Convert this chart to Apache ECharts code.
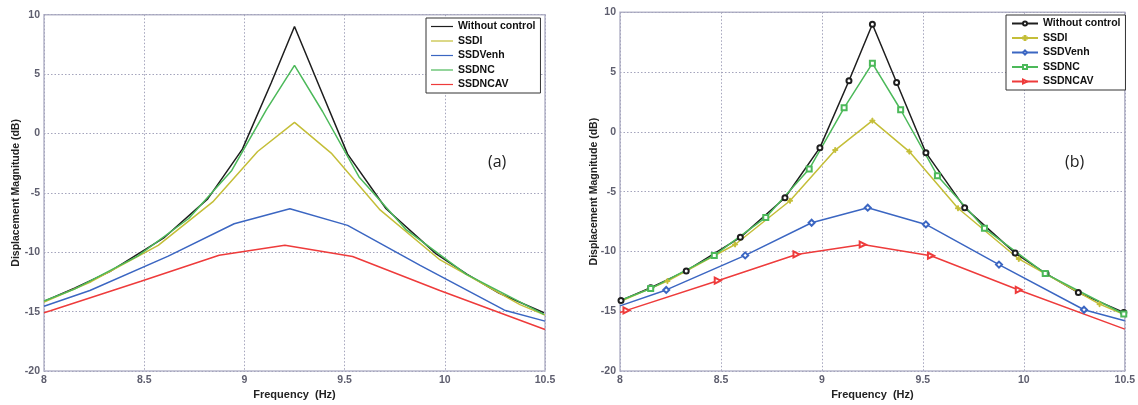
<!DOCTYPE html>
<html>
<head>
<meta charset="utf-8">
<script src="https://cdn.jsdelivr.net/npm/echarts@6/dist/echarts.min.js"></script>
<style>
  html, body { margin: 0; padding: 0; background: #fff; }
  #wrap { position: relative; width: 1138px; height: 405px; }
  #chartA { position: absolute; left: 0; top: 0; width: 570px; height: 405px; }
  #chartB { position: absolute; left: 570px; top: 0; width: 568px; height: 405px; }
</style>
</head>
<body>
<div id="wrap">
  <div id="chartA"></div>
  <div id="chartB"></div>
</div>
<script>
// Frequency axis range and ticks
const X_MIN = 8;
const X_MAX = 10.5;
const xTicks = [8, 8.5, 9, 9.5, 10, 10.5];
const yTicks = [-20, -15, -10, -5, 0, 5, 10];

// Without control
const freqNoCtrl = [8.005, 8.152, 8.328, 8.596, 8.817, 8.99, 9.134, 9.25, 9.37, 9.515, 9.707, 9.957, 10.11, 10.27, 10.495];
const dbNoCtrl   = [-14.1, -13.03, -11.63, -8.82, -5.51, -1.32, 4.27, 9.0, 4.13, -1.74, -6.34, -10.14, -11.85, -13.44, -15.1];

// SSDI
const freqSSDI = [8.0, 8.235, 8.57, 8.842, 9.066, 9.25, 9.433, 9.674, 9.975, 10.375, 10.5];
const dbSSDI   = [-14.2, -12.48, -9.42, -5.76, -1.52, 0.94, -1.65, -6.39, -10.63, -14.41, -15.3];

// SSDVenh
const freqSSDVenh = [8.0, 8.229, 8.62, 8.949, 9.227, 9.515, 9.877, 10.298, 10.5];
const dbSSDVenh   = [-14.55, -13.22, -10.33, -7.6, -6.34, -7.74, -11.1, -14.88, -15.8];

// SSDNC
const freqSSDNC = [8.0, 8.152, 8.467, 8.722, 8.937, 9.11, 9.25, 9.39, 9.572, 9.805, 10.106, 10.495];
const dbSSDNC   = [-14.1, -13.11, -10.33, -7.16, -3.11, 2.01, 5.73, 1.85, -3.66, -8.07, -11.85, -15.23];

// SSDNCAV
const freqSSDNCAV = [8.0, 8.032, 8.484, 8.874, 9.202, 9.54, 9.975, 10.5];
const dbSSDNCAV   = [-15.1, -14.93, -12.45, -10.25, -9.42, -10.36, -13.22, -16.5];

const seriesNames = ['Without control', 'SSDI', 'SSDVenh', 'SSDNC', 'SSDNCAV'];

const FONT = '"Liberation Sans", Arial, sans-serif';
const PLUS = 'path://M2,0H3V2H5V3H3V5H2V3H0V2H2Z';

const curves = [
  { name: seriesNames[0], f: freqNoCtrl,  d: dbNoCtrl,    color: '#1e1e1e', symbol: 'emptyCircle',  size: 5, rotate: 0 },
  { name: seriesNames[1], f: freqSSDI,    d: dbSSDI,      color: '#c4be38', symbol: PLUS,           size: 5, rotate: 0 },
  { name: seriesNames[2], f: freqSSDVenh, d: dbSSDVenh,   color: '#3b66c2', symbol: 'emptyDiamond', size: 6, rotate: 0 },
  { name: seriesNames[3], f: freqSSDNC,   d: dbSSDNC,     color: '#4cb95a', symbol: 'emptyRect',    size: 5, rotate: 0 },
  { name: seriesNames[4], f: freqSSDNCAV, d: dbSSDNCAV,   color: '#ee3b3b', symbol: 'emptyTriangle',size: 6, rotate: -90 }
];

// points lying on the frame edge carry no marker
function points(c, withMarkers) {
  return c.f.map((f, i) => {
    const item = { value: [f, c.d[i]] };
    if (!withMarkers || f === X_MIN || f === X_MAX) item.symbol = 'none';
    return item;
  });
}

function buildOption(withMarkers, gridBox, legendPos, tag) {
  const legend = {
    orient: 'vertical',
    left: legendPos.left,
    top: legendPos.top,
    data: seriesNames,
    itemWidth: legendPos.itemWidth,
    itemHeight: withMarkers ? 5 : 1.2,
    itemGap: 3.5,
    padding: [3, 5, 3, 5],
    backgroundColor: '#fff',
    borderColor: '#333',
    borderWidth: 1,
    borderRadius: 0,
    selectedMode: false,
    textStyle: { fontFamily: FONT, fontWeight: 'bold', fontSize: 10.5, color: '#111', lineHeight: 11 }
  };
  if (!withMarkers) {
    legend.icon = 'rect';
    legend.itemStyle = { borderWidth: 0 };
  }
  return {
    animation: false,
    backgroundColor: '#fff',
    grid: Object.assign({ show: true, borderColor: '#b6b6ca', borderWidth: 1.5, backgroundColor: 'transparent', containLabel: false }, gridBox),
    legend: legend,
    xAxis: {
      type: 'value',
      min: X_MIN,
      max: X_MAX,
      interval: 0.5,
      name: 'Frequency  (Hz)',
      nameLocation: 'middle',
      nameGap: 18,
      nameMoveOverlap: false,
      nameTextStyle: { fontFamily: FONT, fontWeight: 'bold', fontSize: 11, color: '#222' },
      axisLine: { show: false },
      axisTick: { show: false },
      axisLabel: {
        margin: 4, fontFamily: FONT, fontWeight: 'bold', fontSize: 10.5, color: '#5e5e6e',
        formatter: v => xTicks.includes(v) ? String(v) : ''
      },
      splitLine: { show: true, lineStyle: { color: '#a4a4bc', width: 1, type: [1.5, 2] } }
    },
    yAxis: {
      type: 'value',
      min: -20,
      max: 10,
      interval: 5,
      name: 'Displacement Magnitude (dB)',
      nameLocation: 'middle',
      nameGap: legendPos.yNameGap,
      nameMoveOverlap: false,
      nameTextStyle: { fontFamily: FONT, fontWeight: 'bold', fontSize: 10.5, color: '#222' },
      axisLine: { show: false },
      axisTick: { show: false },
      axisLabel: {
        margin: 4, fontFamily: FONT, fontWeight: 'bold', fontSize: 10.5, color: '#5e5e6e',
        formatter: v => yTicks.includes(v) ? String(v) : ''
      },
      splitLine: { show: true, lineStyle: { color: '#a4a4bc', width: 1, type: [1.5, 2] } }
    },
    graphic: [{
      type: 'text',
      left: legendPos.tagX,
      top: 154,
      style: { text: tag, font: '16px "Open Sans", sans-serif', fill: '#222' }
    }],
    series: curves.map(c => ({
      name: c.name,
      type: 'line',
      data: points(c, withMarkers),
      symbol: withMarkers ? c.symbol : 'none',
      symbolSize: c.size,
      symbolRotate: c.rotate,
      showSymbol: withMarkers,
      lineStyle: { color: c.color, width: 1.5 },
      itemStyle: { color: c.color, borderColor: c.color, borderWidth: 1 },
      emphasis: { disabled: true }
    }))
  };
}

const chartA = echarts.init(document.getElementById('chartA'), null, { renderer: 'canvas' });
chartA.setOption(buildOption(false,
  { left: 44, right: 25, top: 14.7, bottom: 31.7 },
  { left: 426, top: 18, itemWidth: 22, tagX: 488, yNameGap: 22 }, '(a)'));

const chartB = echarts.init(document.getElementById('chartB'), null, { renderer: 'canvas' });
chartB.setOption(buildOption(true,
  { left: 50, right: 12.3, top: 12.3, bottom: 31.3 },
  { left: 436, top: 15, itemWidth: 26, tagX: 495, yNameGap: 20 }, '(b)'));
</script>
</body>
</html>
